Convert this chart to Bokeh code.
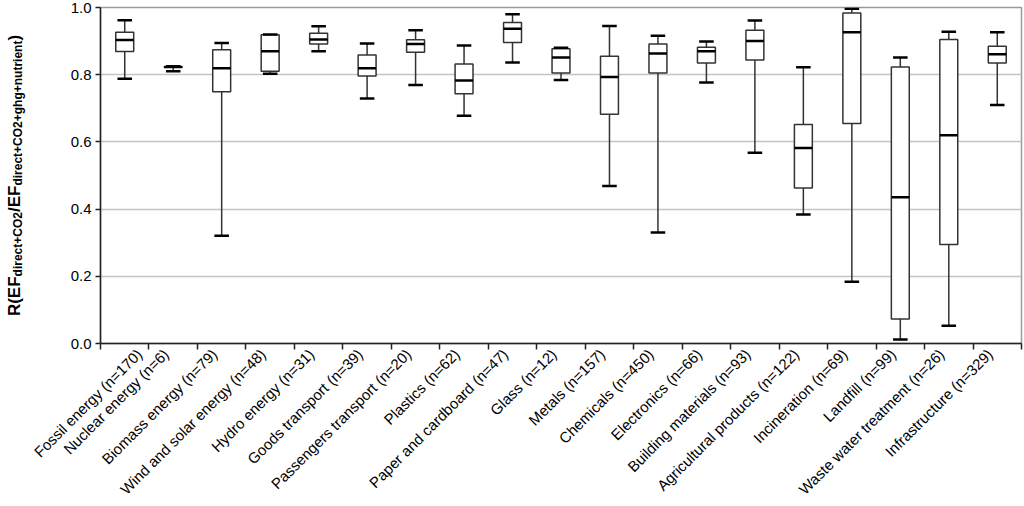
import numpy as np
from math import pi
from bokeh.plotting import figure
from bokeh.layouts import row
from bokeh.models import Range1d, FixedTicker, PrintfTickFormatter, ColumnDataSource
from bokeh.core.properties import value
from bokeh.embed import file_html
from bokeh.resources import INLINE

categories = [
    "Fossil energy (n=170)", "Nuclear energy (n=6)", "Biomass energy (n=79)",
    "Wind and solar energy (n=48)", "Hydro energy (n=31)", "Goods transport (n=39)",
    "Passengers transport (n=20)", "Plastics (n=62)", "Paper and cardboard (n=47)",
    "Glass (n=12)", "Metals (n=157)", "Chemicals (n=450)", "Electronics (n=66)",
    "Building materials (n=93)", "Agricultural products (n=122)", "Incineration (n=69)",
    "Landfill (n=99)", "Waste water treatment (n=26)", "Infrastructure (n=329)",
]
whisker_high = [0.962, 0.825, 0.894, 0.920, 0.944, 0.893, 0.932, 0.887, 0.980, 0.880,
                0.945, 0.916, 0.899, 0.961, 0.822, 0.996, 0.851, 0.928, 0.926]
q3 = [0.926, 0.824, 0.874, 0.919, 0.923, 0.859, 0.904, 0.832, 0.955, 0.877,
      0.855, 0.891, 0.882, 0.932, 0.652, 0.984, 0.823, 0.905, 0.885]
median = [0.903, 0.823, 0.819, 0.870, 0.905, 0.819, 0.891, 0.783, 0.937, 0.851,
          0.793, 0.863, 0.870, 0.900, 0.582, 0.926, 0.435, 0.620, 0.861]
q1 = [0.869, 0.822, 0.749, 0.810, 0.891, 0.796, 0.867, 0.743, 0.896, 0.805,
      0.682, 0.805, 0.835, 0.844, 0.463, 0.655, 0.073, 0.295, 0.835]
whisker_low = [0.788, 0.810, 0.321, 0.803, 0.870, 0.729, 0.769, 0.678, 0.836, 0.784,
               0.469, 0.330, 0.777, 0.568, 0.384, 0.184, 0.012, 0.053, 0.710]
y_ticks = [0.0, 0.2, 0.4, 0.6, 0.8, 1.0]

n = len(categories)
xs = np.arange(n) + 0.5
box_w = 0.37
cap_w = 0.30
label_shift = -0.15  # rotated labels end a little left of the category centre

src = ColumnDataSource(dict(
    x=xs, lo=whisker_low, q1=q1, med=median, q3=q3, hi=whisker_high,
    bl=xs - box_w / 2, br=xs + box_w / 2, cl=xs - cap_w / 2, cr=xs + cap_w / 2,
))

FONT = "Liberation Sans"
W, H = 1024, 506
TW = 30  # width of the title strip

p = figure(width=W - TW, height=H, output_backend="svg", toolbar_location=None,
           x_range=Range1d(0, n), y_range=Range1d(0, 1),
           min_border_left=100 - TW, min_border_right=3, min_border_top=7, min_border_bottom=2)
p.background_fill_color = "white"
p.border_fill_color = "white"
p.outline_line_color = "#9a9a9a"
p.outline_line_width = 1.5

p.segment(x0="x", y0="lo", x1="x", y1="q1", source=src, line_color="#333333", line_width=1.5)
p.segment(x0="x", y0="q3", x1="x", y1="hi", source=src, line_color="#333333", line_width=1.5)
p.quad(left="bl", right="br", bottom="q1", top="q3", source=src,
       fill_color="white", line_color="#333333", line_width=1.5)
p.segment(x0="bl", y0="med", x1="br", y1="med", source=src, line_color="black", line_width=2.5)
p.segment(x0="cl", y0="lo", x1="cr", y1="lo", source=src, line_color="black", line_width=2.5)
p.segment(x0="cl", y0="hi", x1="cr", y1="hi", source=src, line_color="black", line_width=2.5)

p.yaxis.ticker = FixedTicker(ticks=y_ticks)
p.yaxis.formatter = PrintfTickFormatter(format="%.1f")
p.yaxis.major_label_text_font = FONT
p.yaxis.major_label_text_font_size = "15px"
p.yaxis.major_label_text_color = "black"
p.yaxis.major_tick_in = 0
p.yaxis.major_tick_out = 5
p.yaxis.minor_tick_line_color = None
p.yaxis.axis_line_color = "#222222"
p.yaxis.axis_line_width = 1.5
p.yaxis.major_tick_line_color = "#222222"
p.yaxis.major_tick_line_width = 1.5
p.yaxis.major_label_standoff = 4

label_pos = [round(float(x + label_shift), 3) for x in xs]
p.xaxis.ticker = FixedTicker(ticks=label_pos, minor_ticks=list(range(n + 1)))
p.xaxis.major_label_overrides = {x: c for x, c in zip(label_pos, categories)}
p.xaxis.major_label_orientation = pi / 4
p.xaxis.major_label_text_font = FONT
p.xaxis.major_label_text_font_size = "15px"
p.xaxis.major_label_text_color = "black"
p.xaxis.major_tick_line_color = None
p.xaxis.major_tick_in = 0
p.xaxis.major_tick_out = 2
p.xaxis.minor_tick_in = 0
p.xaxis.minor_tick_out = 6
p.xaxis.minor_tick_line_color = "#222222"
p.xaxis.minor_tick_line_width = 1.5
p.xaxis.axis_line_color = "#222222"
p.xaxis.axis_line_width = 1.5
p.xaxis.major_label_standoff = 2

p.xgrid.visible = False
p.ygrid.grid_line_color = "#c4c4c4"
p.ygrid.grid_line_width = 1.5

# y-axis title strip, with subscript pieces placed by pixel offsets
t = figure(width=TW, height=H, output_backend="svg", toolbar_location=None,
           x_range=Range1d(0, TW), y_range=Range1d(0, 1),
           min_border=0, outline_line_color=None)
t.axis.visible = False
t.grid.visible = False
t.background_fill_color = "white"
t.border_fill_color = "white"

bold_w = {"R": 722, "(": 333, ")": 333, "E": 667, "F": 611, "/": 278, "d": 611, "i": 278,
          "r": 389, "e": 556, "c": 556, "t": 333, "+": 584, "C": 722, "O": 778, "2": 556,
          "g": 611, "h": 611, "n": 611, "u": 611}
pieces = [("R(EF", 17, False), ("direct+CO2", 12, True), ("/EF", 17, False),
          ("direct+CO2+ghg+nutrient", 12, True), (")", 17, False)]
lengths = [sum(bold_w[ch] for ch in s) * fs / 1000.0 for s, fs, _ in pieces]
off = sum(lengths) / 2.0  # screen offset, positive = downward
for (s, fs, sub), L in zip(pieces, lengths):
    t.text(x=[17 if sub else 14], y=[0.5], y_offset=off, text=[s], angle=pi / 2,
           text_align="left", text_baseline="alphabetic",
           text_font=value(FONT), text_font_style="bold", text_font_size=f"{fs}px",
           text_color="black")
    off -= L

open("out.html", "w").write(file_html(row(t, p), INLINE))
